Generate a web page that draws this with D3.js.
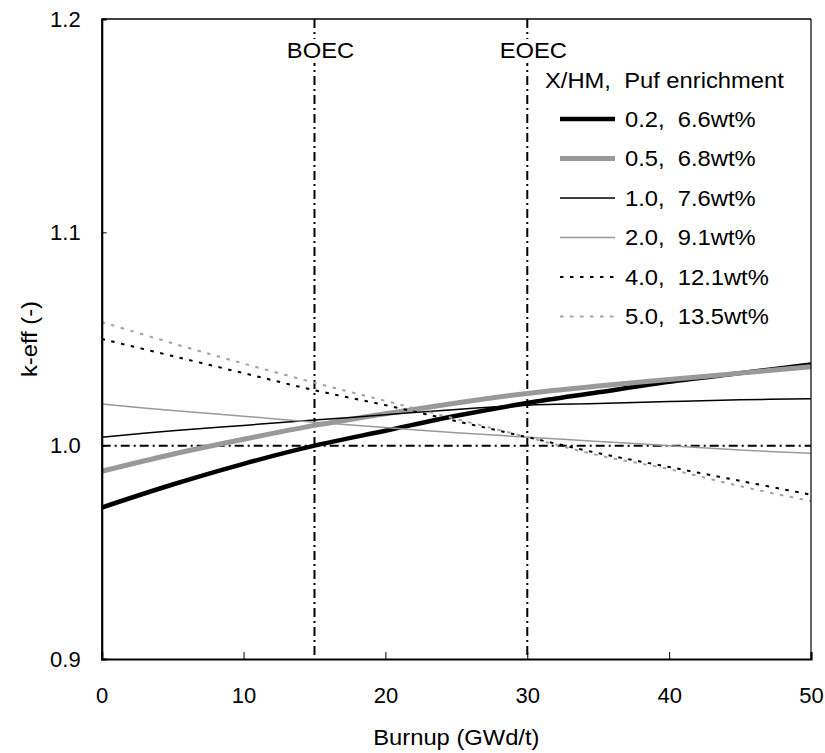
<!DOCTYPE html>
<html>
<head>
<meta charset="utf-8">
<script src="https://cdn.jsdelivr.net/npm/d3@7"></script>
<style>
  body { margin: 0; background: #fff; }
  text { font-family: "Liberation Sans", Arial, sans-serif; fill: #000; white-space: pre; }
</style>
</head>
<body>
<svg id="chart" width="825" height="753"></svg>
<script>
// Burnup grid (GWd/t) and k-eff for each X/HM case
const burnup = [0, 5, 10, 15, 20, 25, 30, 35, 40, 45, 50];
const keff_02 = [0.971, 0.9818, 0.9915, 1.000, 1.007, 1.014, 1.020, 1.025, 1.030, 1.034, 1.038];
const keff_05 = [0.988, 0.996, 1.003, 1.0095, 1.015, 1.020, 1.0245, 1.028, 1.031, 1.034, 1.037];
const keff_10 = [1.004, 1.007, 1.0095, 1.012, 1.0145, 1.017, 1.019, 1.0198, 1.0207, 1.0215, 1.022];
const keff_20 = [1.0195, 1.0165, 1.0138, 1.011, 1.0085, 1.006, 1.004, 1.002, 1.000, 0.998, 0.9964];
const keff_40 = [1.050, 1.042, 1.034, 1.026, 1.019, 1.0115, 1.004, 0.9965, 0.990, 0.9835, 0.977];
const keff_50 = [1.058, 1.048, 1.0385, 1.0295, 1.021, 1.0125, 1.004, 0.9955, 0.989, 0.981, 0.974];

const seriesLabels = ["0.2,  6.6wt%", "0.5,  6.8wt%", "1.0,  7.6wt%", "2.0,  9.1wt%", "4.0,  12.1wt%", "5.0,  13.5wt%"];
const legendTitle = "X/HM,  Puf enrichment";
const xTicks = [0, 10, 20, 30, 40, 50];
const yTicks = [0.9, 1.0, 1.1, 1.2];
const markers = [{ b: 15, name: "BOEC" }, { b: 30, name: "EOEC" }];
const criticalK = 1.0;

const styles = [
  { color: "#000", width: 4.5, dash: null },
  { color: "#999", width: 5, dash: null },
  { color: "#000", width: 1.5, dash: null },
  { color: "#999", width: 1.5, dash: null },
  { color: "#000", width: 2, dash: "3.5,6.5" },
  { color: "#a3a3a3", width: 2, dash: "3.5,6.5" }
];
const allK = [keff_02, keff_05, keff_10, keff_20, keff_40, keff_50];

const svg = d3.select("#chart");
const m = { left: 101.7, right: 14, top: 19, bottom: 94 };
const W = 825, H = 753;
const x = d3.scaleLinear().domain([0, 50]).range([m.left, W - m.right]);
const y = d3.scaleLinear().domain([0.9, 1.2]).range([H - m.bottom, m.top]);

const FS = 22;        // text size
const STRETCH = 1.08; // slightly wide lettering

// text helper: places a horizontally widened label at (tx, ty)
function label(parent, tx, ty, str, anchor, rotate) {
  const rot = rotate ? ` rotate(${rotate})` : "";
  return parent.append("text")
    .attr("transform", `translate(${tx},${ty})${rot} scale(${STRETCH},1)`)
    .attr("text-anchor", anchor || "start")
    .attr("font-size", FS)
    .text(str);
}

svg.append("defs").append("clipPath").attr("id", "plotclip")
  .append("rect").attr("x", x(0)).attr("y", y(1.2)).attr("width", x(50) - x(0)).attr("height", y(0.9) - y(1.2));

const plot = svg.append("g").attr("clip-path", "url(#plotclip)");

// reference lines: critical k and cycle markers (dash-dot)
const dashDot = "9,4,2,4";
plot.append("line")
  .attr("x1", x(0)).attr("x2", x(50)).attr("y1", y(criticalK)).attr("y2", y(criticalK))
  .attr("stroke", "#000").attr("stroke-width", 2).attr("stroke-dasharray", dashDot);
markers.forEach(mk => {
  plot.append("line")
    .attr("x1", x(mk.b)).attr("x2", x(mk.b)).attr("y1", y(1.2)).attr("y2", y(0.9))
    .attr("stroke", "#000").attr("stroke-width", 2).attr("stroke-dasharray", dashDot);
});

// series curves
const line = d3.line().x(d => x(d[0])).y(d => y(d[1])).curve(d3.curveCatmullRom.alpha(0.5));
allK.forEach((ks, i) => {
  const s = styles[i];
  plot.append("path")
    .datum(burnup.map((b, j) => [b, ks[j]]))
    .attr("d", line)
    .attr("fill", "none")
    .attr("stroke", s.color)
    .attr("stroke-width", s.width)
    .attr("stroke-dasharray", s.dash);
});

// marker labels (white background so the dash-dot line breaks around the text)
markers.forEach(mk => {
  const cx = x(mk.b) + 6;
  svg.append("rect").attr("x", cx - 38).attr("y", 39).attr("width", 76).attr("height", 24).attr("fill", "#fff");
  label(svg, cx, 58, mk.name, "middle");
});

// frame
svg.append("line").attr("x1", x(0)).attr("x2", x(50)).attr("y1", y(1.2)).attr("y2", y(1.2)).attr("stroke", "#000").attr("stroke-width", 1.5);
svg.append("line").attr("x1", x(50)).attr("x2", x(50)).attr("y1", y(1.2)).attr("y2", y(0.9)).attr("stroke", "#000").attr("stroke-width", 1.2);

// axes with inward ticks
const xAxis = svg.append("g").attr("transform", `translate(0,${y(0.9)})`)
  .call(d3.axisBottom(x).tickValues(xTicks).tickSize(-7).tickPadding(28).tickFormat(d3.format("d")));
const yAxis = svg.append("g").attr("transform", `translate(${x(0)},0)`)
  .call(d3.axisLeft(y).tickValues(yTicks).tickSize(-5).tickPadding(21).tickFormat(d3.format(".1f")));
[xAxis, yAxis].forEach(a => {
  a.select(".domain").attr("stroke", "#000").attr("stroke-width", 2.2);
  a.selectAll(".tick line").attr("stroke", "#000").attr("stroke-width", 1);
  a.selectAll(".tick text").attr("font-size", FS).attr("font-family", "Liberation Sans, Arial, sans-serif");
});
xAxis.selectAll(".tick").filter(d => d === 0 || d === 50).select("line").remove();
yAxis.selectAll(".tick").filter(d => Math.abs(d - 0.9) < 1e-9 || Math.abs(d - 1.2) < 1e-9).select("line").remove();

// axis titles
label(svg, (x(0) + x(50)) / 2, 745, "Burnup (GWd/t)", "middle");
label(svg, 37, (y(0.9) + y(1.2)) / 2, "k-eff (-)", "middle", -90);

// legend
const lg = svg.append("g");
label(lg, 545, 88, legendTitle, "start");
seriesLabels.forEach((lab, i) => {
  const cy = 119 + i * 39.5;
  const s = styles[i];
  lg.append("line").attr("x1", 560).attr("x2", 615).attr("y1", cy).attr("y2", cy)
    .attr("stroke", s.color).attr("stroke-width", s.width).attr("stroke-dasharray", s.dash);
  label(lg, 625, cy + 7.8, lab, "start");
});
</script>
</body>
</html>
